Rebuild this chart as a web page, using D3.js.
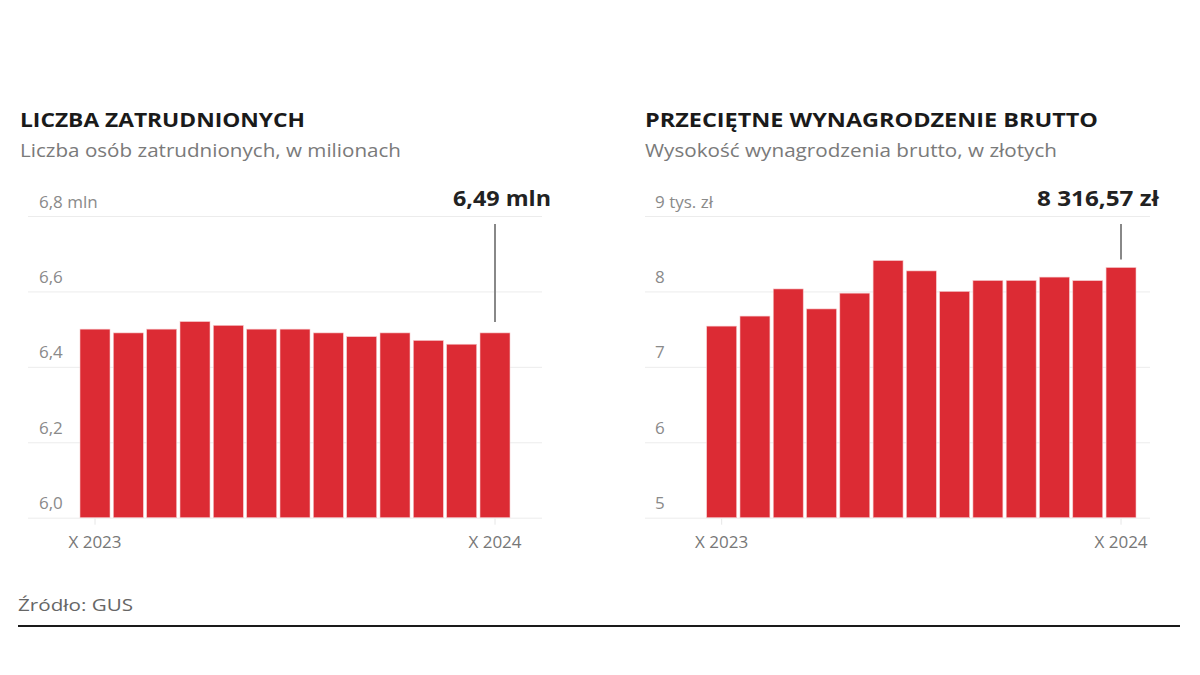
<!DOCTYPE html>
<html>
<head>
<meta charset="utf-8">
<script src="https://cdn.jsdelivr.net/npm/d3@7"></script>
<style>
  html, body { margin: 0; padding: 0; background: #fff; }
  svg { display: block; }
</style>
</head>
<body>
<svg id="chart" width="1200" height="675"></svg>
<script>
// ---- data ----
const months = ["X 2023","XI 2023","XII 2023","I 2024","II 2024","III 2024","IV 2024","V 2024","VI 2024","VII 2024","VIII 2024","IX 2024","X 2024"];
const employment = [6.50, 6.49, 6.50, 6.52, 6.51, 6.50, 6.50, 6.49, 6.48, 6.49, 6.47, 6.46, 6.49];
const wages = [7.540, 7.673, 8.033, 7.768, 7.977, 8.409, 8.272, 8.000, 8.145, 8.145, 8.190, 8.143, 8.317];
const empTicks = [6.0, 6.2, 6.4, 6.6, 6.8];
const empTickLabels = ["6,0", "6,2", "6,4", "6,6", "6,8 mln"];
const wageTicks = [5, 6, 7, 8, 9];
const wageTickLabels = ["5", "6", "7", "8", "9 tys. zł"];
const xTickLabels = ["X 2023", "X 2024"];
const empAnnotation = "6,49 mln";
const wageAnnotation = "8 316,57 zł";

const svg = d3.select("#chart");
const RED = "#dc2b34";
const FONT = "'Open Sans', 'Noto Sans', sans-serif";

function panel(cfg) {
  const g = svg.append("g");
  // title & subtitle
  g.append("text")
    .attr("x", cfg.titleX).attr("y", 127)
    .attr("font-family", FONT).attr("font-weight", 700).attr("font-size", 20)
    .attr("fill", "#1a1a1a")
    .attr("textLength", cfg.titleW).attr("lengthAdjust", "spacingAndGlyphs")
    .text(cfg.title);
  g.append("text")
    .attr("x", cfg.titleX).attr("y", 157)
    .attr("font-family", FONT).attr("font-size", 18)
    .attr("fill", "#7a7a7a")
    .attr("textLength", cfg.subW).attr("lengthAdjust", "spacingAndGlyphs")
    .text(cfg.subtitle);

  const y = d3.scaleLinear().domain(cfg.domain).range([517.7, 216]);
  const x = d3.scaleBand().domain(months).range(cfg.barRange).paddingInner(0.1).paddingOuter(0);

  // gridlines via axis
  const yAxis = d3.axisRight(y).tickValues(cfg.ticks).tickSize(cfg.gridEnd - cfg.gridStart).tickFormat((d, i) => cfg.tickLabels[i]);
  const ag = g.append("g").attr("transform", `translate(${cfg.gridStart},0)`).call(yAxis);
  ag.select(".domain").remove();
  ag.selectAll(".tick line").attr("stroke", "#ececec").attr("stroke-width", 1);
  ag.selectAll(".tick text")
    .attr("x", cfg.labelX - cfg.gridStart).attr("dy", -9)
    .attr("text-anchor", "start")
    .attr("font-family", FONT).attr("font-size", 17).attr("fill", "#8a8a8a");

  // bars
  g.selectAll("rect.bar").data(cfg.values).join("rect")
    .attr("class", "bar")
    .attr("x", (d, i) => x(months[i]))
    .attr("width", x.bandwidth())
    .attr("y", d => y(d))
    .attr("height", d => y(cfg.domain[0]) - y(d))
    .attr("fill", RED)
    .attr("stroke", "#f6c9cb").attr("stroke-width", 0.6);

  // x axis ticks & labels
  const xa = d3.axisBottom(x).tickValues([months[0], months[months.length - 1]]).tickSize(6).tickFormat((d, i) => xTickLabels[i]);
  const xg = g.append("g").attr("transform", `translate(0,${y(cfg.domain[0]) + 1})`).call(xa);
  xg.select(".domain").remove();
  xg.selectAll(".tick line").attr("stroke", "#e6e6e6");
  xg.selectAll(".tick text").attr("dy", 20)
    .attr("font-family", FONT).attr("font-size", 17).attr("fill", "#777");

  // annotation
  const last = cfg.values[cfg.values.length - 1];
  const cx = x(months[months.length - 1]) + x.bandwidth() / 2;
  g.append("line")
    .attr("x1", cx).attr("x2", cx)
    .attr("y1", y(cfg.domain[1]) + 8).attr("y2", y(last) - cfg.annoGap)
    .attr("stroke", "#888").attr("stroke-width", 2);
  g.append("text")
    .attr("x", cfg.gridEnd + 9).attr("y", 206)
    .attr("text-anchor", "end")
    .attr("font-family", FONT).attr("font-weight", 700).attr("font-size", 21)
    .attr("fill", "#222")
    .attr("textLength", cfg.annoW).attr("lengthAdjust", "spacingAndGlyphs")
    .text(cfg.annotation);
}

panel({
  title: "LICZBA ZATRUDNIONYCH", titleW: 285,
  subtitle: "Liczba osób zatrudnionych, w milionach", subW: 381,
  titleX: 20, domain: [6.0, 6.8], ticks: empTicks, tickLabels: empTickLabels,
  gridStart: 28, gridEnd: 542, labelX: 39, barRange: [80, 510],
  values: employment, annotation: empAnnotation, annoGap: 11, annoW: 98
});
panel({
  title: "PRZECIĘTNE WYNAGRODZENIE BRUTTO", titleW: 453,
  subtitle: "Wysokość wynagrodzenia brutto, w złotych", subW: 412,
  titleX: 645, domain: [5, 9], ticks: wageTicks, tickLabels: wageTickLabels,
  gridStart: 645, gridEnd: 1150, labelX: 655, barRange: [706.7, 1136],
  values: wages, annotation: wageAnnotation, annoGap: 8, annoW: 122
});

// source & rule
svg.append("text")
  .attr("x", 18).attr("y", 611)
  .attr("font-family", FONT).attr("font-size", 17).attr("fill", "#666")
  .attr("textLength", 115).attr("lengthAdjust", "spacingAndGlyphs")
  .text("Źródło: GUS");
svg.append("line")
  .attr("x1", 18).attr("x2", 1180).attr("y1", 626).attr("y2", 626)
  .attr("stroke", "#1a1a1a").attr("stroke-width", 2);
</script>
</body>
</html>
